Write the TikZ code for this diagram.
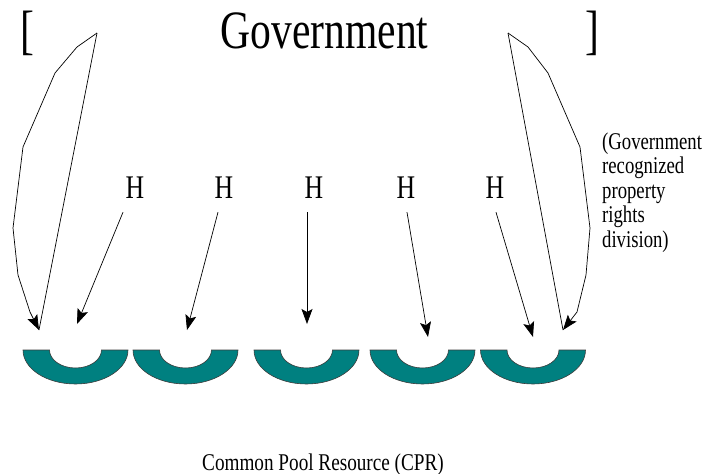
\documentclass[tikz,border=0pt]{standalone}
\usepackage{fontspec}
\setmainfont{Liberation Serif}
\usetikzlibrary{arrows.meta}
\begin{document}
\begin{tikzpicture}[x=1pt,y=-1pt,
  arr/.style={line width=0.7pt,-{Stealth[length=15pt,width=11pt,inset=3pt]}},
  loopline/.style={line width=0.7pt},
  hlabel/.style={anchor=base,xscale=0.78,inner xsep=1pt,inner ysep=14pt,font=\fontsize{33}{33}\selectfont},
  title/.style={anchor=base,xscale=0.77,inner sep=0pt,font=\fontsize{54}{54}\selectfont},
  note/.style={anchor=base west,xscale=0.78,inner sep=0pt,align=left,font=\fontsize{24}{24.5}\selectfont},
  caption/.style={anchor=base,xscale=0.8,inner sep=0pt,font=\fontsize{24}{24}\selectfont},
  cupfill/.style={fill={rgb,255:red,0;green,128;blue,128},draw={rgb,255:red,60;green,60;blue,60},line width=0.6pt}]
\useasboundingbox (0,0) rectangle (707,474);

% heading with brackets
\node[title] (gov) at (324.5,48) {Government};
\node[title] (lbr) at (27,48) {[};
\node[title] (rbr) at (592,48) {]};

% side note (anchored at the baseline of its last line)
\node[note] (side) at (602,247) {(Government\\recognized\\property\\rights\\division)};

% caption
\node[caption] (cpr) at (323,470) {Common Pool Resource (CPR)};

% harvesters
\node[hlabel] (h1) at (135,198) {H};
\node[hlabel] (h2) at (224,198) {H};
\node[hlabel] (h3) at (314,198) {H};
\node[hlabel] (h4) at (406,198) {H};
\node[hlabel] (h5) at (495,198) {H};

% arrow targets above the resource units
\coordinate (t1) at (77,324);
\coordinate (t2) at (187,330);
\coordinate (t3) at (307,324);
\coordinate (t4) at (428,337);
\coordinate (t5) at (533,337);

\draw[arr] ([xshift=-12pt]h1.south) -- (t1);
\draw[arr] ([xshift=-6pt]h2.south) -- (t2);
\draw[arr] ([xshift=-7pt]h3.south) -- (t3);
\draw[arr] ([xshift=1pt]h4.south) -- (t4);
\draw[arr] ([xshift=1pt]h5.south) -- (t5);

% government loops
\coordinate (la) at (97,33);
\coordinate (lb) at (39,330);
\coordinate (ra) at (508,33);
\coordinate (rb) at (563,330);
\draw[loopline] (la) -- (lb);
\draw[arr] (la) -- (77,47) -- (55,73) -- (23,147) -- (13,228) -- (18,275) -- (30,312) -- (lb);
\draw[loopline] (ra) -- (rb);
\draw[arr] (ra) -- (528,47) -- (548,73) -- (580,147) -- (590,228) -- (586,275) -- (577,312) -- (rb);

% resource units (half rings)
\foreach \cx in {75.5,185.5,306.5,422.5,533}{
  \draw[cupfill] (\cx-52.5,350) -- (\cx-26,350)
    arc[start angle=180,end angle=0,x radius=26,y radius=18]
    -- (\cx+52.5,350)
    arc[start angle=0,end angle=180,x radius=52.5,y radius=34] -- cycle;
}
\end{tikzpicture}
\end{document}
